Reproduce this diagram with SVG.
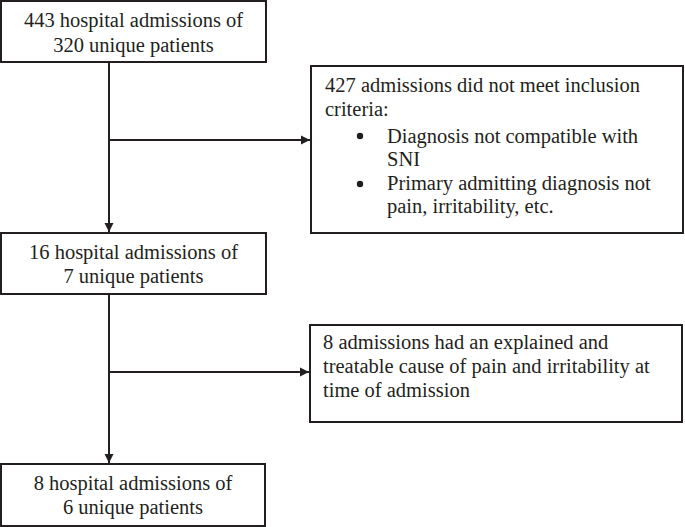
<svg xmlns="http://www.w3.org/2000/svg" width="685" height="527" viewBox="0 0 685 527">
<style>
.box{fill:#fff;stroke:#231f20;stroke-width:2}
.ln{fill:none;stroke:#231f20;stroke-width:2}
text{font-family:"Liberation Serif","Times New Roman",serif;font-size:20.5px;fill:#231f20}
.c{text-anchor:middle}
</style>
<defs>
<marker id="ah" markerWidth="10" markerHeight="10" refX="9" refY="5" orient="auto" markerUnits="userSpaceOnUse">
<path d="M0,0.5 L9,5 L0,9.5 Z" fill="#231f20"/>
</marker>
</defs>
<rect width="685" height="527" fill="#fff"/>
<g id="connectors">
<path class="ln" d="M109,62 V232" marker-end="url(#ah)"/>
<path class="ln" d="M109,140 H310" marker-end="url(#ah)"/>
<path class="ln" d="M109,294 V463" marker-end="url(#ah)"/>
<path class="ln" d="M109,372 H309" marker-end="url(#ah)"/>
</g>
<g id="n1">
<rect class="box" x="1" y="1" width="265" height="61"/>
<text class="c" x="133.5" y="27">443 hospital admissions of</text>
<text class="c" x="133.5" y="52">320 unique patients</text>
</g>
<g id="n2">
<rect class="box" x="311" y="66" width="372" height="167"/>
<text x="325" y="92">427 admissions did not meet inclusion</text>
<text x="325" y="116">criteria:</text>
<circle cx="360" cy="136" r="3.2" fill="#231f20"/>
<text x="387" y="143">Diagnosis not compatible with</text>
<text x="387" y="166">SNI</text>
<circle cx="360" cy="184" r="3.2" fill="#231f20"/>
<text x="387" y="190">Primary admitting diagnosis not</text>
<text x="387" y="213">pain, irritability, etc.</text>
</g>
<g id="n3">
<rect class="box" x="1" y="233" width="265" height="61"/>
<text class="c" x="133.5" y="259">16 hospital admissions of</text>
<text class="c" x="133.5" y="283">7 unique patients</text>
</g>
<g id="n4">
<rect class="box" x="310" y="325" width="372" height="97"/>
<text x="323" y="349">8 admissions had an explained and</text>
<text x="323" y="373">treatable cause of pain and irritability at</text>
<text x="323" y="397">time of admission</text>
</g>
<g id="n5">
<rect class="box" x="1" y="464" width="264" height="62"/>
<text class="c" x="133" y="490">8 hospital admissions of</text>
<text class="c" x="133" y="514">6 unique patients</text>
</g>
</svg>
